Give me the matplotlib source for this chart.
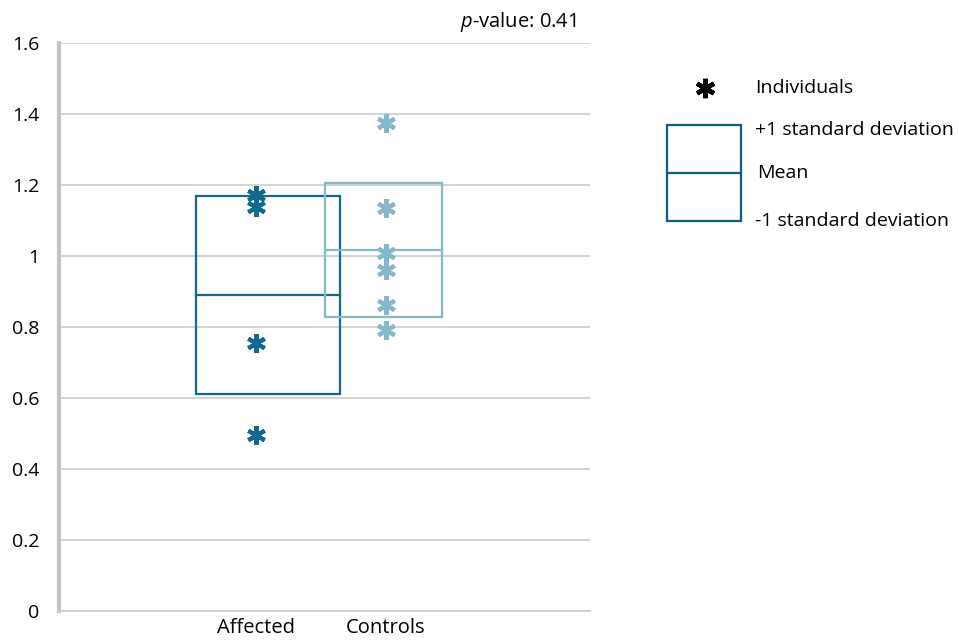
import numpy as np
import matplotlib
matplotlib.use("Agg")
import matplotlib.pyplot as plt
from matplotlib.patches import Rectangle

plt.rcParams['font.family'] = ['Open Sans', 'DejaVu Sans']
plt.rcParams['mathtext.fontset'] = 'custom'
plt.rcParams['mathtext.it'] = 'Open Sans:italic'
plt.rcParams['mathtext.rm'] = 'Open Sans'

# data
groups = ['Affected', 'Controls']
affected = [1.172, 1.139, 0.755, 0.496]
controls = [1.375, 1.135, 1.008, 0.961, 0.862, 0.792]
means = [0.890, 1.017]
sds = [0.279, 0.189]
p_value = 0.41

dark = '#12698c'
light = '#86b8ca'
colors = [dark, light]
# box spans relative to category position (as in the original sheet)
box_left = [-0.46, 0.53]
box_right = [0.65, 1.43]

fig = plt.figure(figsize=(9.59, 6.4), dpi=100)
ax = fig.add_axes([59 / 959, 1 - 611 / 640, (590 - 59) / 959, (611 - 43) / 640])

ax.set_ylim(0, 1.6)
ax.set_xlim(-1.515, 2.569)
ax.set_yticks(np.arange(0, 1.61, 0.2))
ax.set_yticklabels(['0', '0.2', '0.4', '0.6', '0.8', '1', '1.2', '1.4', '1.6'])
ax.set_xticks([0, 1])
ax.set_xticklabels(groups)
ax.tick_params(axis='y', length=0, labelsize=14, colors='#000000', pad=14)
ax.tick_params(axis='x', length=0, labelsize=14.5, colors='#000000', pad=5)
ax.grid(axis='y', color='#d0d0d0', lw=1.3)
ax.set_axisbelow(True)
for s in ['top', 'right']:
    ax.spines[s].set_visible(False)
ax.spines['left'].set_color('#c4c4c4')
ax.spines['left'].set_linewidth(3)
ax.spines['bottom'].set_color('#d0d0d0')
ax.spines['bottom'].set_linewidth(1.3)

for i in range(2):
    lo = means[i] - sds[i]
    hi = means[i] + sds[i]
    ax.add_patch(Rectangle((box_left[i], lo), box_right[i] - box_left[i], hi - lo,
                           fill=False, edgecolor=colors[i], lw=1.6, zorder=3))
    ax.plot([box_left[i], box_right[i]], [means[i], means[i]], color=colors[i], lw=1.6, zorder=3)

for i, vals in enumerate([affected, controls]):
    ax.plot([i] * len(vals), vals, ls='none', marker=(6, 2, 0), ms=13.5, mew=3,
            color=colors[i], zorder=4)

ax.text(0.975, 1.015, r'$p$-value: ' + str(p_value), transform=ax.transAxes,
        ha='right', va='bottom', fontsize=14.5)

# legend drawn in pixel coordinates
lg = fig.add_axes([0, 0, 1, 1])
lg.set_xlim(0, 959)
lg.set_ylim(640, 0)
lg.axis('off')
lg.patch.set_alpha(0)
lg.plot([705], [88], ls='none', marker=(6, 2, 0), ms=14, mew=3.2, color='black')
lg.add_patch(Rectangle((667, 125), 74, 96, fill=False, edgecolor='#0f5f7c', lw=1.6))
lg.plot([667, 741], [173, 173], color='#0f5f7c', lw=1.6)
for txt, y in [('Individuals', 88), ('+1 standard deviation', 130),
               ('Mean', 173), ('-1 standard deviation', 221)]:
    lg.text(755 if txt != 'Mean' else 757, y, txt, fontsize=14, va='center', ha='left')

fig.savefig('out.png', dpi=100)
